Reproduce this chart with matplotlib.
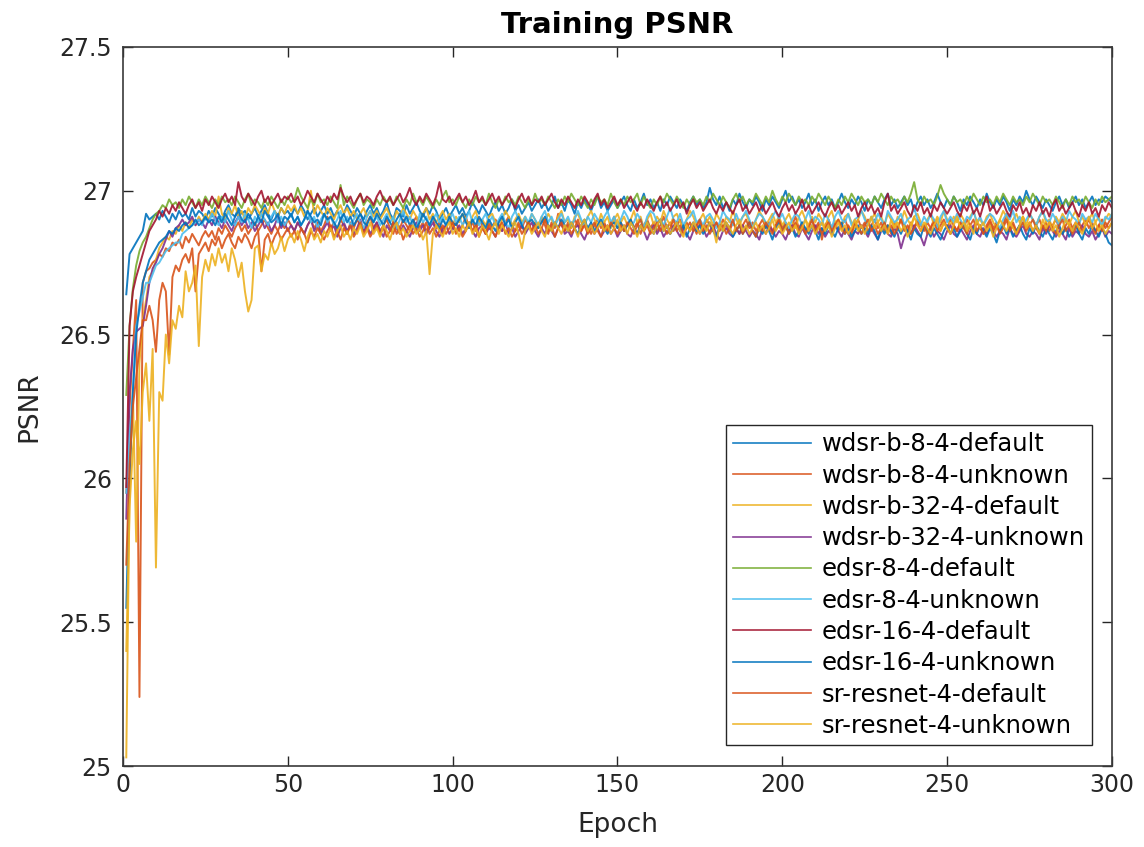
import numpy as np
import matplotlib
matplotlib.use("Agg")
import matplotlib.pyplot as plt
from matplotlib.ticker import FuncFormatter

# Per-epoch training PSNR (epochs 1..300), in hundredths of a dB above 26 dB
# e.g. 92 -> 26.92 dB, -45 -> 25.55 dB
wdsr_b_8_4_default = [
    64, 78, 80, 82, 84, 86, 92, 90, 91, 92, 90, 93, 91, 89, 92, 90, 93, 91, 92, 90, 94, 91, 93, 92, 90,
    93, 91, 94, 92, 90, 93, 95, 92, 91, 94, 92, 93, 90, 92, 94, 91, 93, 95, 92, 90, 93, 91, 94, 92, 93,
    91, 94, 92, 95, 93, 90, 92, 94, 91, 93, 95, 92, 94, 91, 93, 90, 92, 95, 93, 91, 94, 92, 90, 93, 95,
    92, 94, 91, 93, 96, 92, 90, 94, 93, 91, 95, 92, 94, 96, 93, 91, 94, 92, 95, 93, 90, 92, 94, 91, 93,
    95, 92, 94, 91, 93, 96, 94, 92, 95, 93, 91, 94, 96, 93, 95, 92, 94, 97, 93, 95, 92, 94, 96, 93, 95,
    97, 94, 96, 93, 95, 98, 94, 96, 93, 97, 95, 92, 96, 94, 97, 95, 93, 96, 98, 94, 96, 93, 95, 97, 94,
    96, 98, 95, 93, 97, 94, 96, 99, 95, 97, 94, 96, 93, 97, 95, 98, 96, 94, 97, 95, 93, 96, 98, 95, 97,
    94, 96, 101, 97, 95, 98, 94, 96, 93, 97, 95, 99, 96, 94, 97, 95, 98, 96, 93, 97, 95, 98, 96, 94, 97,
    100, 96, 98, 95, 97, 94, 96, 99, 95, 97, 93, 96, 98, 95, 97, 94, 96, 99, 96, 94, 97, 95, 98, 96, 93,
    97, 95, 98, 96, 94, 97, 99, 95, 97, 94, 96, 98, 95, 97, 93, 96, 98, 95, 97, 94, 96, 99, 96, 94, 97,
    95, 98, 96, 93, 97, 95, 98, 96, 94, 97, 95, 99, 96, 94, 97, 95, 98, 96, 93, 97, 95, 98, 96, 100, 97,
    95, 98, 96, 94, 97, 95, 93, 96, 98, 95, 97, 94, 96, 98, 95, 97, 94, 96, 98, 95, 97, 96, 98, 97, 96,
]
wdsr_b_8_4_unknown = [
    -5, 25, 45, 62, -76, 68, 72, 73, 75, 76, 78, 77, 80, 79, 82, 81, 83, 80, 84, 82, 85, 83, 81, 84, 86,
    84, 86, 83, 87, 85, 88, 86, 84, 87, 89, 86, 88, 85, 87, 89, 86, 88, 90, 87, 85, 88, 86, 89, 87, 90,
    88, 86, 89, 87, 85, 88, 90, 87, 89, 86, 88, 91, 87, 89, 86, 90, 88, 85, 89, 87, 90, 88, 86, 89, 91,
    87, 89, 86, 88, 90, 87, 85, 89, 87, 90, 88, 86, 89, 91, 87, 89, 86, 88, 90, 87, 89, 85, 88, 90, 87,
    89, 86, 88, 91, 87, 89, 86, 90, 88, 85, 89, 87, 90, 88, 86, 89, 91, 88, 86, 89, 87, 90, 88, 86, 89,
    87, 90, 88, 85, 89, 87, 92, 88, 86, 89, 87, 90, 88, 86, 89, 87, 85, 88, 90, 87, 89, 86, 88, 91, 87,
    89, 86, 88, 90, 87, 89, 85, 88, 90, 87, 89, 86, 88, 91, 87, 89, 86, 88, 90, 87, 89, 86, 88, 85, 89,
    87, 90, 88, 86, 89, 87, 90, 88, 86, 89, 87, 85, 88, 90, 87, 89, 86, 88, 90, 87, 89, 86, 88, 90, 87,
    89, 86, 88, 91, 87, 89, 86, 88, 90, 87, 89, 83, 88, 90, 87, 89, 86, 88, 90, 87, 85, 88, 90, 87, 89,
    86, 88, 90, 87, 89, 86, 88, 85, 89, 87, 90, 88, 86, 89, 87, 90, 88, 86, 89, 87, 90, 88, 86, 89, 87,
    90, 88, 86, 89, 87, 90, 88, 86, 89, 87, 85, 88, 90, 87, 89, 86, 88, 92, 87, 89, 86, 88, 91, 87, 89,
    86, 88, 90, 87, 89, 86, 88, 90, 87, 85, 88, 90, 87, 89, 86, 88, 90, 87, 89, 86, 88, 90, 87, 89, 91,
]
wdsr_b_32_4_default = [
    -97, -5, 30, -22, 40, 55, 62, 70, 72, 76, 80, 82, 84, 83, 86, 85, 88, 86, 89, 87, 90, 88, 91, 89, 92,
    90, 93, 91, 98, 92, 90, 94, 92, 95, 91, 93, 90, 94, 92, 95, 93, 91, 94, 92, 96, 93, 91, 94, 92, 95,
    93, 95, 92, 94, 91, 93, 100, 92, 95, 93, 91, 94, 92, 90, 93, 95, 92, 94, 91, 93, 90, 92, 94, 91, 93,
    91, 93, 90, 92, 94, 91, 89, 93, 91, 94, 92, 90, 93, 91, 89, 92, 94, 90, 92, 89, 91, 93, 90, 92, 88,
    91, 89, 92, 90, 87, 91, 93, 89, 90, 88, 91, 92, 89, 87, 90, 93, 91, 88, 90, 92, 89, 91, 88, 92, 90,
    87, 91, 89, 92, 90, 88, 91, 93, 89, 90, 87, 91, 92, 89, 88, 91, 93, 90, 88, 92, 89, 91, 87, 90, 92,
    89, 91, 88, 90, 93, 89, 91, 87, 90, 92, 88, 91, 89, 93, 90, 88, 91, 92, 89, 87, 90, 93, 91, 88, 90,
    92, 89, 91, 88, 92, 90, 87, 91, 89, 93, 90, 88, 91, 92, 89, 87, 90, 93, 91, 88, 90, 92, 89, 91, 88,
    90, 92, 89, 87, 91, 93, 90, 88, 91, 89, 92, 90, 87, 91, 93, 89, 90, 88, 91, 92, 89, 87, 90, 93, 91,
    88, 90, 92, 89, 91, 88, 92, 90, 87, 91, 89, 93, 90, 88, 91, 92, 89, 87, 90, 92, 88, 91, 89, 93, 90,
    88, 91, 89, 92, 90, 87, 91, 93, 89, 90, 88, 91, 92, 89, 87, 90, 93, 91, 88, 90, 92, 89, 91, 88, 92,
    90, 88, 91, 93, 89, 90, 87, 91, 89, 92, 90, 88, 91, 93, 89, 91, 88, 90, 92, 89, 91, 87, 90, 92, 91,
]
wdsr_b_32_4_unknown = [
    -14, 30, 45, 51, 52, 53, 60, 68, 73, 75, 78, 80, 83, 86, 84, 87, 88, 90, 88, 89, 91, 88, 90, 89, 87,
    90, 88, 91, 89, 87, 90, 88, 86, 89, 91, 88, 90, 87, 89, 86, 88, 90, 87, 89, 86, 88, 91, 87, 89, 86,
    88, 86, 89, 87, 85, 88, 90, 86, 88, 85, 87, 89, 86, 88, 84, 87, 89, 86, 88, 85, 87, 90, 86, 88, 85,
    87, 89, 86, 84, 88, 86, 89, 87, 85, 88, 86, 84, 87, 89, 86, 88, 85, 87, 89, 86, 84, 87, 88, 85, 87,
    86, 88, 85, 87, 89, 86, 84, 87, 88, 85, 87, 86, 84, 88, 86, 89, 85, 87, 84, 86, 88, 85, 87, 89, 86,
    84, 87, 85, 88, 86, 84, 87, 89, 85, 86, 84, 87, 88, 85, 83, 86, 88, 85, 87, 84, 86, 88, 85, 87, 84,
    86, 88, 85, 84, 87, 85, 88, 86, 83, 86, 88, 85, 87, 84, 86, 85, 88, 86, 84, 87, 85, 83, 86, 88, 85,
    87, 84, 86, 88, 85, 83, 86, 87, 85, 84, 87, 85, 88, 86, 84, 86, 85, 83, 87, 85, 88, 86, 84, 86, 85,
    83, 86, 88, 85, 84, 87, 85, 83, 86, 88, 85, 87, 84, 86, 85, 88, 86, 84, 87, 85, 83, 86, 85, 88, 86,
    84, 87, 85, 83, 86, 88, 85, 84, 87, 85, 80, 84, 86, 85, 88, 86, 84, 81, 85, 87, 84, 86, 85, 83, 86,
    88, 85, 84, 87, 85, 83, 86, 88, 85, 84, 87, 85, 88, 86, 84, 86, 85, 83, 87, 85, 84, 86, 88, 85, 84,
    86, 85, 83, 87, 85, 88, 86, 84, 86, 85, 83, 87, 84, 86, 85, 88, 85, 84, 86, 83, 85, 87, 84, 86, 85,
]
edsr_8_4_default = [
    29, 53, 66, 74, 79, 82, 84, 87, 90, 92, 93, 95, 94, 97, 95, 96, 94, 97, 95, 98, 96, 94, 97, 95, 98,
    96, 94, 97, 95, 98, 96, 97, 95, 98, 96, 94, 97, 99, 95, 97, 96, 94, 97, 95, 98, 96, 94, 97, 95, 98,
    96, 97, 101, 98, 96, 94, 97, 95, 99, 96, 97, 95, 98, 96, 94, 102, 95, 98, 96, 94, 97, 99, 95, 97, 96,
    94, 97, 95, 98, 96, 97, 95, 98, 96, 94, 97, 95, 99, 96, 97, 95, 98, 96, 94, 97, 95, 98, 100, 96, 97,
    95, 98, 96, 94, 97, 95, 98, 96, 97, 95, 99, 96, 94, 97, 95, 98, 96, 97, 95, 98, 96, 94, 97, 95, 99,
    96, 97, 95, 98, 96, 94, 97, 95, 98, 96, 99, 97, 95, 98, 96, 94, 97, 95, 98, 96, 97, 95, 99, 96, 94,
    97, 95, 98, 96, 97, 99, 95, 98, 96, 94, 97, 95, 98, 96, 99, 97, 95, 98, 96, 94, 97, 95, 98, 96, 97,
    95, 98, 96, 99, 97, 95, 98, 96, 94, 97, 99, 96, 98, 95, 97, 96, 99, 97, 95, 98, 96, 100, 97, 95, 98,
    96, 99, 97, 95, 98, 96, 97, 95, 98, 96, 99, 97, 95, 98, 96, 94, 97, 95, 98, 96, 99, 97, 95, 98, 96,
    97, 95, 98, 96, 99, 97, 95, 98, 96, 97, 95, 98, 96, 99, 103, 97, 95, 98, 96, 97, 95, 98, 102, 99, 97,
    95, 98, 96, 97, 95, 98, 96, 99, 97, 95, 98, 96, 97, 95, 98, 96, 99, 97, 95, 98, 96, 97, 95, 98, 96,
    99, 97, 95, 98, 96, 97, 95, 98, 96, 94, 97, 95, 98, 96, 97, 95, 98, 96, 94, 97, 95, 98, 96, 97, 98,
]
edsr_8_4_unknown = [
    -5, 15, 30, 53, 58, 63, 68, 68, 71, 74, 75, 77, 79, 80, 81, 82, 82, 85, 86, 87, 88, 89, 90, 88, 91,
    89, 92, 90, 88, 91, 89, 93, 90, 88, 91, 89, 92, 90, 87, 91, 89, 92, 90, 88, 91, 93, 89, 91, 88, 90,
    92, 89, 91, 88, 90, 93, 89, 91, 87, 90, 92, 89, 91, 88, 90, 93, 89, 91, 88, 90, 92, 89, 87, 91, 93,
    89, 91, 88, 90, 92, 89, 91, 87, 90, 93, 89, 91, 88, 86, 92, 89, 91, 88, 90, 92, 89, 91, 88, 90, 92,
    89, 91, 88, 90, 93, 89, 91, 88, 90, 92, 89, 91, 88, 90, 92, 89, 87, 91, 93, 90, 88, 91, 89, 92, 90,
    88, 91, 93, 89, 91, 88, 90, 92, 89, 91, 88, 90, 93, 90, 88, 91, 89, 92, 90, 88, 91, 93, 89, 91, 88,
    90, 93, 91, 88, 89, 92, 90, 87, 91, 93, 92, 89, 90, 88, 91, 94, 90, 89, 92, 88, 90, 91, 93, 89, 90,
    88, 91, 92, 90, 87, 89, 93, 91, 90, 88, 92, 89, 91, 93, 90, 87, 90, 92, 91, 89, 88, 91, 93, 90, 92,
    89, 87, 90, 92, 91, 88, 90, 93, 89, 91, 90, 88, 92, 90, 87, 91, 93, 90, 89, 92, 88, 90, 91, 93, 90,
    88, 91, 89, 92, 90, 88, 93, 91, 89, 90, 92, 88, 90, 91, 94, 90, 88, 91, 89, 92, 90, 87, 91, 93, 89,
    91, 89, 92, 90, 88, 91, 90, 93, 89, 91, 88, 90, 92, 91, 89, 87, 90, 92, 90, 93, 89, 91, 88, 90, 92,
    90, 88, 91, 93, 90, 89, 92, 90, 88, 91, 89, 93, 91, 90, 88, 92, 90, 91, 89, 92, 90, 88, 91, 90, 92,
]
edsr_16_4_default = [
    -3, 53, 65, 70, 74, 78, 82, 86, 88, 90, 93, 91, 94, 92, 95, 93, 96, 94, 92, 95, 97, 94, 96, 93, 97,
    95, 98, 96, 94, 97, 99, 96, 98, 95, 103, 98, 96, 99, 97, 95, 98, 100, 96, 98, 95, 97, 99, 96, 98, 97,
    99, 96, 98, 95, 97, 100, 98, 96, 99, 97, 95, 98, 96, 99, 97, 101, 98, 96, 98, 95, 97, 99, 96, 98, 97,
    95, 98, 100, 97, 96, 98, 95, 97, 99, 96, 98, 101, 97, 95, 98, 96, 99, 97, 95, 98, 103, 97, 96, 98, 95,
    97, 99, 96, 98, 95, 97, 100, 96, 98, 95, 97, 99, 96, 98, 95, 97, 99, 96, 94, 97, 99, 96, 98, 95, 97,
    96, 98, 95, 97, 99, 96, 94, 97, 95, 98, 96, 94, 97, 95, 98, 96, 94, 97, 99, 95, 97, 94, 96, 98, 95,
    97, 94, 96, 98, 95, 93, 96, 94, 97, 95, 93, 96, 98, 94, 96, 93, 95, 97, 94, 96, 92, 95, 97, 94, 96,
    93, 95, 97, 94, 92, 95, 93, 96, 94, 92, 95, 97, 93, 95, 92, 94, 96, 93, 95, 92, 94, 96, 93, 91, 94,
    96, 93, 95, 92, 94, 97, 93, 95, 92, 94, 96, 93, 91, 94, 96, 93, 95, 92, 94, 96, 93, 95, 91, 94, 96,
    93, 95, 92, 94, 91, 96, 99, 93, 95, 92, 94, 96, 93, 91, 95, 93, 96, 92, 94, 91, 95, 93, 96, 94, 92,
    94, 96, 93, 91, 95, 93, 96, 92, 94, 91, 95, 98, 93, 95, 92, 94, 96, 93, 91, 95, 93, 96, 92, 94, 91,
    95, 93, 96, 92, 94, 91, 95, 97, 93, 95, 92, 94, 96, 93, 91, 95, 93, 96, 92, 94, 91, 95, 93, 96, 94,
]
edsr_16_4_unknown = [
    -45, 0, 30, 50, 60, 68, 72, 76, 78, 80, 82, 83, 84, 86, 85, 87, 86, 88, 89, 87, 88, 90, 88, 89, 91,
    89, 90, 88, 91, 89, 92, 90, 88, 91, 93, 90, 89, 92, 90, 88, 91, 89, 93, 91, 89, 90, 92, 88, 91, 90,
    92, 89, 91, 88, 90, 93, 91, 89, 90, 88, 92, 90, 91, 89, 87, 90, 92, 89, 91, 88, 90, 92, 89, 88, 91,
    89, 92, 90, 88, 91, 89, 87, 90, 92, 89, 91, 88, 90, 87, 89, 92, 90, 88, 91, 89, 87, 90, 88, 91, 89,
    88, 90, 92, 89, 87, 90, 88, 91, 89, 87, 90, 88, 86, 89, 91, 88, 90, 87, 89, 91, 88, 86, 89, 90, 88,
    87, 89, 91, 88, 86, 89, 87, 90, 88, 86, 89, 87, 85, 88, 90, 87, 89, 86, 88, 90, 87, 85, 88, 89, 87,
    89, 86, 88, 90, 87, 85, 88, 86, 89, 87, 85, 88, 90, 86, 88, 85, 87, 89, 86, 88, 84, 87, 89, 86, 88,
    85, 87, 89, 86, 84, 88, 86, 89, 87, 84, 86, 88, 85, 87, 89, 86, 84, 87, 85, 88, 86, 83, 87, 89, 86,
    88, 85, 87, 84, 86, 89, 87, 85, 88, 86, 83, 87, 85, 88, 86, 84, 87, 89, 85, 87, 84, 86, 88, 85, 87,
    85, 88, 86, 83, 87, 85, 88, 86, 84, 87, 85, 88, 86, 83, 87, 85, 84, 88, 86, 84, 87, 85, 83, 86, 88,
    85, 87, 84, 86, 88, 85, 83, 87, 85, 88, 86, 84, 87, 85, 82, 86, 88, 85, 87, 84, 86, 88, 85, 83, 87,
    85, 88, 86, 84, 87, 85, 83, 86, 88, 85, 87, 84, 86, 88, 85, 83, 87, 85, 88, 86, 84, 87, 85, 82, 81,
]
sr_resnet_4_default = [
    -30, 5, 25, 35, 45, 55, 55, 60, 55, 44, 62, 68, 65, 43, 70, 74, 72, 76, 78, 75, 80, 65, 78, 80, 82,
    79, 83, 81, 84, 80, 83, 85, 82, 80, 84, 82, 85, 83, 80, 84, 86, 72, 83, 85, 81, 84, 86, 83, 85, 87,
    84, 86, 83, 87, 85, 82, 86, 84, 87, 85, 83, 86, 88, 84, 86, 83, 87, 85, 88, 84, 86, 89, 85, 87, 84,
    86, 88, 85, 87, 84, 86, 89, 85, 87, 83, 86, 88, 85, 87, 84, 86, 89, 85, 87, 84, 86, 88, 85, 87, 89,
    85, 87, 84, 86, 89, 86, 88, 84, 87, 85, 88, 86, 84, 87, 89, 85, 87, 84, 86, 88, 85, 87, 89, 86, 88,
    85, 87, 90, 86, 88, 84, 87, 89, 86, 88, 85, 87, 90, 86, 88, 85, 87, 89, 86, 84, 88, 86, 89, 87, 85,
    88, 86, 89, 87, 85, 88, 90, 86, 88, 85, 87, 89, 86, 88, 85, 87, 90, 86, 88, 85, 87, 89, 86, 88, 90,
    86, 88, 85, 87, 89, 86, 88, 85, 87, 90, 86, 88, 85, 87, 89, 86, 84, 88, 86, 89, 87, 85, 88, 90, 86,
    88, 85, 87, 89, 86, 88, 85, 87, 90, 86, 88, 85, 87, 89, 86, 88, 90, 87, 85, 88, 86, 89, 87, 85, 88,
    90, 86, 88, 85, 87, 89, 86, 88, 85, 87, 90, 86, 88, 85, 87, 89, 86, 88, 85, 87, 89, 86, 88, 90, 87,
    85, 88, 86, 89, 87, 85, 88, 90, 86, 88, 85, 87, 89, 86, 88, 85, 87, 90, 86, 88, 85, 87, 89, 86, 88,
    90, 87, 85, 88, 86, 89, 87, 85, 88, 90, 86, 88, 85, 87, 89, 86, 88, 90, 87, 85, 88, 86, 89, 87, 89,
]
sr_resnet_4_unknown = [
    -60, -10, 10, 20, 5, 30, 40, 20, 45, -31, 30, 27, 50, 40, 55, 52, 60, 56, 72, 65, 68, 74, 46, 70, 76,
    72, 78, 74, 80, 75, 78, 72, 80, 76, 70, 75, 65, 58, 62, 80, 81, 72, 78, 76, 82, 78, 80, 84, 79, 83,
    85, 82, 86, 83, 79, 84, 87, 83, 85, 82, 86, 84, 87, 83, 86, 88, 84, 86, 83, 87, 85, 88, 84, 86, 89,
    85, 87, 84, 88, 86, 83, 87, 89, 85, 87, 84, 86, 88, 85, 87, 83, 86, 71, 85, 88, 86, 84, 87, 89, 85,
    87, 84, 88, 86, 89, 85, 87, 84, 88, 86, 83, 87, 89, 85, 88, 86, 84, 87, 89, 85, 80, 86, 88, 85, 87,
    89, 86, 84, 88, 86, 89, 87, 85, 88, 86, 89, 87, 84, 88, 90, 86, 88, 85, 87, 89, 86, 88, 85, 87, 90,
    86, 88, 85, 89, 87, 84, 88, 86, 89, 87, 85, 88, 90, 86, 88, 85, 87, 89, 86, 84, 88, 86, 89, 87, 85,
    88, 86, 89, 87, 82, 88, 86, 89, 87, 85, 88, 90, 86, 88, 85, 87, 89, 86, 88, 85, 87, 90, 86, 88, 85,
    87, 89, 86, 88, 85, 87, 90, 86, 88, 85, 87, 89, 86, 88, 84, 87, 89, 86, 88, 85, 87, 90, 86, 88, 85,
    88, 91, 87, 89, 86, 88, 85, 90, 87, 89, 86, 88, 84, 87, 91, 88, 86, 89, 87, 85, 88, 90, 86, 89, 87,
    85, 88, 91, 87, 89, 86, 88, 85, 90, 87, 89, 86, 88, 84, 87, 90, 88, 86, 89, 87, 85, 88, 91, 87, 89,
    86, 88, 85, 90, 87, 89, 86, 88, 84, 87, 90, 88, 86, 89, 87, 85, 88, 91, 87, 89, 86, 88, 85, 87, 89,
]

series = [
    wdsr_b_8_4_default, wdsr_b_8_4_unknown, wdsr_b_32_4_default, wdsr_b_32_4_unknown,
    edsr_8_4_default, edsr_8_4_unknown, edsr_16_4_default, edsr_16_4_unknown,
    sr_resnet_4_default, sr_resnet_4_unknown,
]
labels = [
    'wdsr-b-8-4-default', 'wdsr-b-8-4-unknown', 'wdsr-b-32-4-default', 'wdsr-b-32-4-unknown',
    'edsr-8-4-default', 'edsr-8-4-unknown', 'edsr-16-4-default', 'edsr-16-4-unknown',
    'sr-resnet-4-default', 'sr-resnet-4-unknown',
]
# MATLAB default line colour order (wraps after seven)
colors = ['#0072BD', '#D95319', '#EDB120', '#7E2F8E', '#77AC30',
          '#4DBEEE', '#A2142F', '#0072BD', '#D95319', '#EDB120']

for name, vals in zip(labels, series):
    assert len(vals) == 300, (name, len(vals))

plt.rcParams['font.family'] = 'DejaVu Sans'
text_color = '#262626'

fig = plt.figure(figsize=(11.44, 8.47), dpi=100)
ax = fig.add_axes([0.1075, 0.0956, 0.8645, 0.849])

for vals, lab, col in zip(series, labels, colors):
    psnr = 26 + np.array(vals) / 100
    epochs = np.arange(1, len(psnr) + 1)
    ax.plot(epochs, psnr, color=col, lw=1.4, alpha=0.9, label=lab)

ax.set_xlim(0, 300)
ax.set_ylim(25, 27.5)
ax.set_xticks(np.arange(0, 301, 50))
ax.set_yticks(np.arange(25, 27.51, 0.5))
ax.yaxis.set_major_formatter(FuncFormatter(lambda v, p: f'{v:g}'))
ax.tick_params(direction='in', top=True, right=True, length=7, width=1,
               labelsize=17, colors=text_color)
ax.tick_params(axis='x', pad=5)
ax.tick_params(axis='y', pad=8)
for sp in ax.spines.values():
    sp.set_color('#3a3a3a')
    sp.set_linewidth(1.2)

ax.set_xlabel('Epoch', fontsize=19, color=text_color, labelpad=11)
ax.set_ylabel('PSNR', fontsize=19, color=text_color, labelpad=12)
ax.set_title('Training PSNR', fontsize=21, fontweight='bold', color='black', pad=10)

leg = ax.legend(loc='lower right', bbox_to_anchor=(0.98, 0.029), borderaxespad=0,
                fontsize=17.5, handlelength=3.2, handletextpad=0.45, borderpad=0.3,
                fancybox=False, edgecolor=text_color, framealpha=1, labelspacing=0.3)
leg.get_frame().set_linewidth(1)
for h in leg.get_lines():
    h.set_linewidth(1.2)

fig.savefig('out.png', dpi=100)
